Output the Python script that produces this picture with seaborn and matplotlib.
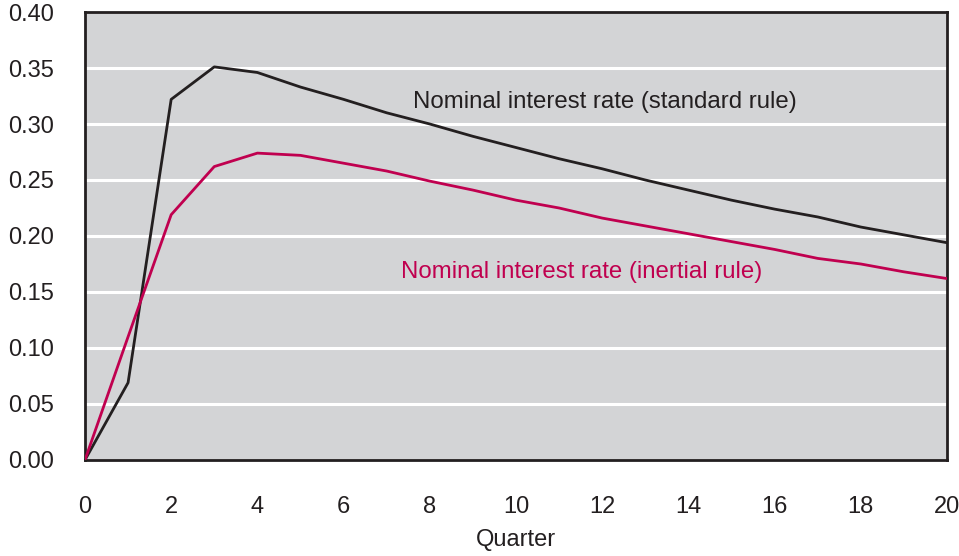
import numpy as np
import pandas as pd
import seaborn as sns
import matplotlib.pyplot as plt

# quarters after the shock
quarters = list(range(0, 21))

# nominal interest rate response
standard_rule = [0.000, 0.069, 0.322, 0.351, 0.346, 0.333, 0.322, 0.310, 0.300, 0.289,
                 0.279, 0.269, 0.260, 0.250, 0.241, 0.232, 0.224, 0.217, 0.208, 0.201, 0.194]
inertial_rule = [0.000, 0.110, 0.219, 0.262, 0.274, 0.272, 0.265, 0.258, 0.249, 0.241,
                 0.232, 0.225, 0.216, 0.209, 0.202, 0.195, 0.188, 0.180, 0.175, 0.168, 0.162]

series_names = ['Nominal interest rate (standard rule)', 'Nominal interest rate (inertial rule)']
y_ticks = [0.00, 0.05, 0.10, 0.15, 0.20, 0.25, 0.30, 0.35, 0.40]
x_ticks = list(range(0, 21, 2))

black = '#231f20'
red = '#c0004f'

df = pd.DataFrame({
    'Quarter': quarters * 2,
    'Rate': standard_rule + inertial_rule,
    'Series': [series_names[0]] * len(quarters) + [series_names[1]] * len(quarters),
})

sns.set_style('white')
plt.rcParams['font.family'] = ['Liberation Sans', 'DejaVu Sans']

fig = plt.figure(figsize=(9.59, 5.56), dpi=100)
ax = fig.add_axes([0.0886, 0.1727, 0.8989, 0.8057])
ax.set_facecolor('#d3d4d6')

# white horizontal gridlines behind the lines
for y in y_ticks[1:-1]:
    ax.axhline(y, color='white', lw=2.2, zorder=1)

sns.lineplot(data=df, x='Quarter', y='Rate', hue='Series',
             palette={series_names[0]: black, series_names[1]: red},
             linewidth=2.0, legend=False, ax=ax, zorder=3)

ax.set_xlim(0, 20)
ax.set_ylim(0, 0.40)
ax.set_xticks(range(0, 21), minor=True)
ax.set_xticks(x_ticks)
ax.set_yticks(y_ticks)
ax.set_yticklabels([f'{v:.2f}' for v in y_ticks])

ax.tick_params(axis='x', which='both', direction='in', length=9, width=1.5,
               color=black, pad=26, labelsize=17, labelcolor=black)
ax.tick_params(axis='y', direction='in', length=9, width=1.5,
               color=black, pad=22, labelsize=17, labelcolor=black)
ax.tick_params(axis='y', right=False)
ax.tick_params(axis='x', which='both', top=False)

for s in ax.spines.values():
    s.set_color(black)
    s.set_linewidth(2)

ax.set_xlabel('Quarter', fontsize=17, color=black, labelpad=8)
ax.set_ylabel('')

ax.text(7.61, 0.3196, series_names[0], color=black, fontsize=17.3, va='center', ha='left')
ax.text(7.33, 0.168, series_names[1], color=red, fontsize=17.3, va='center', ha='left')

fig.savefig('out.png', dpi=100)
